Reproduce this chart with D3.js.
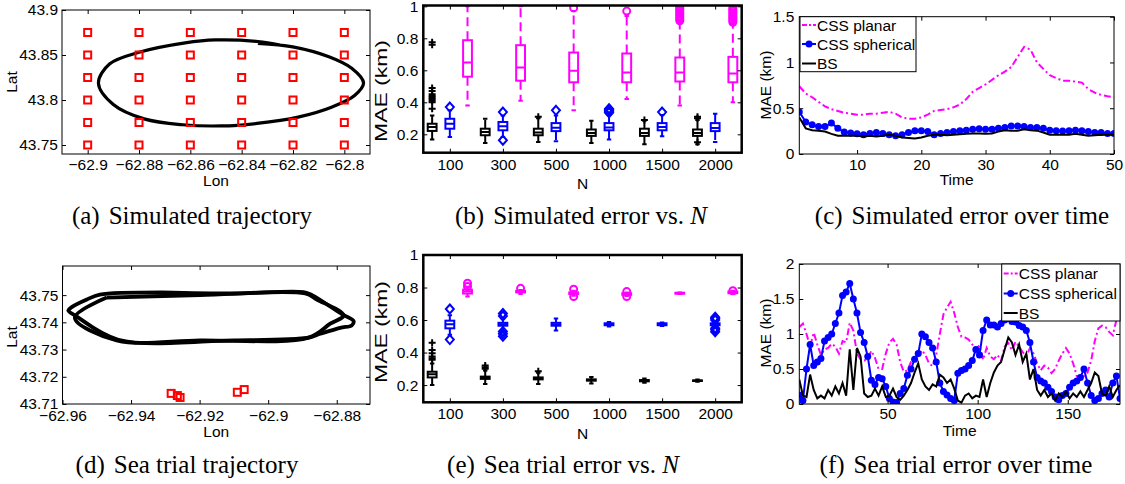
<!DOCTYPE html>
<html><head><meta charset="utf-8">
<script src="https://cdn.jsdelivr.net/npm/d3@7"></script>
<style>
body{margin:0;background:#fff}
svg{display:block}
</style></head><body>
<svg id="fig" width="1125" height="484"></svg>
<script>
// ---- (a) simulated trajectory ----
var simSensorLon = [-62.9, -62.88, -62.86, -62.84, -62.82, -62.8];
var simSensorLat = [43.75, 43.775, 43.8, 43.825, 43.85, 43.875];
var simTrackLon = [-62.8337, -62.8201, -62.8060, -62.7970, -62.7925, -62.7960, -62.8050, -62.8180, -62.8340, -62.8480, -62.8630, -62.8780, -62.8900, -62.8958, -62.8915, -62.8800, -62.8620, -62.8502, -62.8337, -62.8250];
var simTrackLat = [43.8630, 43.8590, 43.8480, 43.8350, 43.8190, 43.8050, 43.7920, 43.7810, 43.7740, 43.7712, 43.7725, 43.7790, 43.7950, 43.8186, 43.8400, 43.8530, 43.8635, 43.8667, 43.8650, 43.8610];
var simLonTicks = [-62.9, -62.88, -62.86, -62.84, -62.82, -62.8];
var simLatTicks = [43.75, 43.8, 43.85, 43.9];

// ---- (b),(e) error vs N : boxes ordered BS, CSS spherical, CSS planar for each N ----
var nLabels = ["100", "300", "500", "1000", "1500", "2000"];
var boxColors = ["#000000", "#0000ff", "#ff00ff"];
var simQ1  = [.221,.235,.56, .194,.225,.535, .194,.22,.525, .19,.225,.525, .19,.225,.53, .19,.22,.525];
var simMed = [.245,.266,.649, .214,.25,.618, .212,.241,.597, .208,.243,.587, .208,.245,.587, .208,.24,.58];
var simQ3  = [.266,.297,.788, .235,.277,.757, .235,.27,.711, .23,.27,.705, .235,.27,.68, .23,.27,.684];
var simLo  = [.167,.183,.38, .146,.183,.41, .152,.157,.35, .146,.167,.42, .138,.188,.38, .138,.152,.40];
var simHi  = [.318,.35,1.0, .297,.318,1.0, .30,.318,.97, .285,.32,.94, .285,.32,.9, .29,.328,.89];
var simOut = [[.36,.40,.41,.42,.43,.44,.45,.47,.49,.76,.775],[.37],[],
              [],[.163,.339],[],
              [.31],[.35],[.99],
              [],[.335,.34,.345,.35,.355,.36],[.97],
              [.29],[.339],[.91,.92,.93,.94,.95,.96,.97,.98,.99,1.0],
              [.15,.30,.31],[],[.9,.91,.92,.93,.94,.95,.96,.97,.98,.99]];
var seaQ1  = [.247,.549,.763, .238,.565,.77, .235,.565,.76, .227,.568,.755, .223,.568,.762, .225,.568,.765];
var seaMed = [.266,.574,.775, .245,.574,.775, .241,.574,.765, .231,.574,.76, .227,.574,.765, .227,.574,.77];
var seaQ3  = [.282,.596,.787, .252,.583,.78, .247,.583,.77, .235,.58,.765, .231,.58,.768, .229,.58,.775];
var seaLo  = [.2,.51,.744, .206,.53,.76, .206,.535,.75, .21,.56,.748, .215,.563,.76, .22,.56,.76];
var seaHi  = [.333,.63,.80, .29,.61,.785, .275,.61,.78, .25,.588,.77, .24,.585,.77, .235,.59,.78];
var seaOut = [[.355,.365,.375,.395,.415,.46],[.48,.668],[.806,.826],
              [.30,.31,.32],[.5,.515,.53,.625,.64],[.795],
              [.285],[],[.744,.79],
              [],[],[.745,.775],
              [],[],[],
              [],[.528,.54,.55,.6,.61,.617],[.78]];

// ---- (c) simulated error over time, t = 1..50 ----
var cPlanar = [0.74,0.66,0.62,0.57,0.52,0.49,0.47,0.45,0.44,0.43,0.43,0.44,0.44,0.45,0.46,0.44,0.40,0.385,0.385,0.40,0.43,0.47,0.48,0.49,0.51,0.54,0.60,0.68,0.72,0.76,0.81,0.86,0.90,0.95,1.06,1.17,1.14,1.0,0.93,0.86,0.83,0.80,0.80,0.79,0.78,0.71,0.67,0.645,0.63,0.62];
var cSpherical = [0.46,0.35,0.32,0.30,0.30,0.34,0.28,0.24,0.23,0.22,0.21,0.225,0.235,0.225,0.21,0.20,0.21,0.235,0.255,0.255,0.245,0.21,0.225,0.235,0.245,0.255,0.26,0.27,0.275,0.27,0.27,0.28,0.29,0.305,0.305,0.30,0.29,0.29,0.28,0.26,0.255,0.25,0.255,0.26,0.255,0.245,0.235,0.235,0.225,0.225];
var cBS = [0.40,0.28,0.26,0.255,0.245,0.22,0.20,0.20,0.20,0.20,0.19,0.20,0.19,0.20,0.21,0.20,0.18,0.175,0.17,0.18,0.20,0.21,0.21,0.205,0.21,0.215,0.22,0.225,0.225,0.22,0.225,0.245,0.26,0.255,0.255,0.27,0.26,0.255,0.235,0.21,0.21,0.21,0.21,0.22,0.21,0.20,0.205,0.21,0.21,0.21];

// ---- (d) sea trial trajectory ----
var seaLoop1Lon = [-62.9310,-62.9101,-62.8897,-62.8872,-62.8785,-62.8751,-62.8756,-62.8790,-62.8848,-62.8882,-62.9101,-62.9437,-62.9559,-62.9583,-62.9573,-62.9529,-62.9491,-62.9310];
var seaLoop1Lat = [43.7510,43.7506,43.7511,43.7500,43.7430,43.7405,43.7389,43.7380,43.7358,43.7344,43.7334,43.7336,43.7422,43.7444,43.7456,43.7484,43.7502,43.7510];
var seaLoop2Lon = [-62.9471,-62.9199,-62.8892,-62.8858,-62.8780,-62.8819,-62.8882,-62.9199,-62.9442,-62.9564,-62.9471];
var seaLoop2Lat = [43.7491,43.7500,43.7506,43.7484,43.7426,43.7395,43.7344,43.7334,43.7334,43.7417,43.7491];
var seaSensorLon = [-62.9283, -62.9265, -62.9257, -62.9090, -62.9070];
var seaSensorLat = [43.7139, 43.7131, 43.7124, 43.7143, 43.7153];
var seaLonTicks = [-62.96, -62.94, -62.92, -62.9, -62.88];
var seaLatTicks = [43.71, 43.72, 43.73, 43.74, 43.75];

// ---- (f) sea trial error over time, every second step t = 1,3,...,179 ----
var fPlanar = [1.1,1.15,1.0,0.82,1.02,0.85,0.7,0.78,0.8,0.86, 0.82,0.72,0.9,0.88,1.16,1.05,0.72,0.64,0.62,0.65,
  0.76,0.66,0.5,0.5,0.72,0.88,0.93,0.85,0.6,0.46, 0.48,0.6,0.64,0.68,0.77,0.7,0.58,0.54,0.7,1.0,
  1.28,1.38,1.46,1.3,1.1,0.96,0.95,0.92,0.85,0.78, 0.84,0.63,0.8,0.68,0.64,0.7,0.62,0.82,0.87,0.77,
  0.89,0.82,0.74,0.68,0.8,0.72,0.58,0.48,0.55,0.52, 0.44,0.5,0.62,0.72,0.8,0.72,0.58,0.4,0.35,0.4,
  0.45,0.62,0.9,1.08,1.12,1.1,1.03,0.98,1.2,1.3];
var fSpherical = [0.13,0.05,0.5,0.85,0.55,0.6,0.65,0.9,0.95,1.0, 1.15,1.3,1.55,1.6,1.72,1.5,1.3,1.02,0.88,0.68,
  0.34,0.28,0.38,0.36,0.25,0.08,0.03,0.02,0.15,0.22, 0.41,0.5,0.64,0.72,1.0,0.96,0.88,0.8,0.6,0.3,
  0.18,0.13,0.08,0.05,0.44,0.48,0.5,0.55,0.62,0.78, 0.7,1.05,1.2,1.13,1.13,1.1,1.15,1.2,1.22,1.18,
  1.17,1.12,1.1,1.05,0.88,0.6,0.38,0.33,0.3,0.24, 0.18,0.1,0.06,0.12,0.15,0.24,0.3,0.33,0.38,0.5,
  0.3,0.12,0.05,0.08,0.15,0.2,0.1,0.3,0.4,0.08];
var fBS = [0.35,0.12,0.1,0.42,0.2,0.08,0.12,0.08,0.2,0.12, 0.25,0.15,0.3,0.12,0.78,0.2,0.8,0.68,0.15,0.1,
  0.12,0.22,0.12,0.25,0.1,0.12,0.22,0.1,0.06,0.12, 0.2,0.3,0.45,0.58,0.35,0.25,0.2,0.28,0.25,0.42,
  0.38,0.3,0.35,0.22,0.05,0.02,0.12,0.15,0.08,0.12, 0.1,0.35,0.1,0.3,0.45,0.55,0.6,0.78,0.95,0.88,
  0.7,0.85,0.6,0.72,0.35,0.5,0.2,0.12,0.2,0.1, 0.15,0.05,0.15,0.1,0.18,0.08,0.15,0.1,0.18,0.1,
  0.2,0.3,0.45,0.4,0.15,0.12,0.25,0.1,0.2,0.27];

var legendNames = ["CSS planar", "CSS spherical", "BS"];

var svg = d3.select('#fig');
var sans = '"Liberation Sans", Arial, sans-serif';
var serif = '"Liberation Serif", "Times New Roman", serif';
var fmt = d3.format('~g');
var clipCount = 0;

function axesBox(b, xd, yd) {
  var ax = {b: b};
  ax.x = d3.scaleLinear().domain(xd).range([b.l, b.r]);
  ax.y = d3.scaleLinear().domain(yd).range([b.b, b.t]);
  var id = 'clip' + (clipCount++);
  svg.append('clipPath').attr('id', id).append('rect')
    .attr('x', b.l).attr('y', b.t).attr('width', b.r - b.l).attr('height', b.b - b.t);
  ax.g = svg.append('g').attr('clip-path', 'url(#' + id + ')');
  return ax;
}

function finishAxes(ax, o) {
  var b = ax.b, g = svg.append('g');
  g.append('g').attr('transform', 'translate(0,' + b.b + ')')
    .call(d3.axisBottom(ax.x).tickValues(o.xt).tickFormat(o.xf || fmt).tickSize(-4).tickSizeOuter(0).tickPadding(o.padX));
  g.append('g').attr('transform', 'translate(0,' + b.t + ')')
    .call(d3.axisTop(ax.x).tickValues(o.xt).tickFormat('').tickSize(-4).tickSizeOuter(0));
  g.append('g').attr('transform', 'translate(' + b.l + ',0)')
    .call(d3.axisLeft(ax.y).tickValues(o.yt).tickFormat(fmt).tickSize(-4).tickSizeOuter(0).tickPadding(o.padY));
  g.append('g').attr('transform', 'translate(' + b.r + ',0)')
    .call(d3.axisRight(ax.y).tickValues(o.yt).tickFormat('').tickSize(-4).tickSizeOuter(0));
  g.selectAll('.domain').remove();
  g.selectAll('g').attr('font-size', 15.5).attr('font-family', sans);
  g.selectAll('text').attr('fill', '#000');
  g.selectAll('.tick line').attr('stroke', '#000');
  g.append('rect').attr('x', b.l).attr('y', b.t).attr('width', b.r - b.l).attr('height', b.b - b.t)
    .attr('fill', 'none').attr('stroke', '#000').attr('stroke-width', o.bw || 1);
  svg.append('text').attr('x', (b.l + b.r) / 2).attr('y', o.xlY).attr('text-anchor', 'middle')
    .attr('font-family', sans).attr('font-size', 15.5).text(o.xl);
  svg.append('text').attr('transform', 'translate(' + o.ylX + ',' + o.ylY + ') rotate(-90) scale(' + (o.ylStretch || 1) + ',1)')
    .attr('text-anchor', 'middle').attr('font-family', sans).attr('font-size', o.ylSize || 15.5).text(o.yl);
}

function caption(x, y, tag, text, italic) {
  var t = svg.append('text').attr('x', x).attr('y', y).attr('text-anchor', 'middle')
    .attr('font-family', serif).attr('font-size', 25);
  t.append('tspan').text(tag);
  t.append('tspan').attr('dx', 9).text(text);
  if (italic) t.append('tspan').attr('font-style', 'italic').text(italic);
}

function squares(ax, lons, lats, size) {
  ax.g.selectAll(null).data(lons.map(function(d, i) { return [d, lats[i]]; })).enter()
    .append('rect')
    .attr('x', function(d) { return ax.x(d[0]) - size / 2; })
    .attr('y', function(d) { return ax.y(d[1]) - size / 2; })
    .attr('width', size).attr('height', size)
    .attr('fill', 'none').attr('stroke', '#ff0000').attr('stroke-width', 2);
}

// ===== (a) =====
var A = axesBox({l: 62, r: 370, t: 10, b: 154}, [-62.91, -62.79], [43.74, 43.9]);
A.g.append('path')
  .datum(simTrackLon.map(function(d, i) { return [d, simTrackLat[i]]; }))
  .attr('d', d3.line().x(function(d) { return A.x(d[0]); }).y(function(d) { return A.y(d[1]); }).curve(d3.curveCatmullRom))
  .attr('fill', 'none').attr('stroke', '#000').attr('stroke-width', 3.2);
var gridLon = [], gridLat = [];
simSensorLon.forEach(function(lo) { simSensorLat.forEach(function(la) { gridLon.push(lo); gridLat.push(la); }); });
squares(A, gridLon, gridLat, 7);
finishAxes(A, {xt: simLonTicks, yt: simLatTicks, padX: 5, padY: 4, xl: 'Lon', xlY: 186, yl: 'Lat', ylX: 17, ylY: 82});
caption(192, 224, '(a)', 'Simulated trajectory');

// ===== (b),(e) boxplots =====
function boxPanel(b, yd, q1, med, q3, lo, hi, outs) {
  var ax = axesBox(b, [0.5, 18.5], yd);
  var bw = ax.x(1.25) - ax.x(1);
  q1.forEach(function(v, i) {
    var c = boxColors[i % 3], cx = ax.x(i + 1), g = ax.g.append('g').attr('stroke', c).attr('fill', 'none').attr('stroke-width', 2);
    g.append('line').attr('x1', cx).attr('x2', cx).attr('y1', ax.y(q3[i])).attr('y2', ax.y(hi[i])).attr('stroke-dasharray', '9,5');
    g.append('line').attr('x1', cx).attr('x2', cx).attr('y1', ax.y(q1[i])).attr('y2', ax.y(lo[i])).attr('stroke-dasharray', '9,5');
    [lo[i], hi[i]].forEach(function(w) {
      g.append('line').attr('x1', cx - bw / 2).attr('x2', cx + bw / 2).attr('y1', ax.y(w)).attr('y2', ax.y(w));
    });
    g.append('rect').attr('x', cx - bw).attr('width', 2 * bw)
      .attr('y', ax.y(q3[i])).attr('height', Math.max(ax.y(q1[i]) - ax.y(q3[i]), 0.5));
    g.append('line').attr('x1', cx - bw).attr('x2', cx + bw).attr('y1', ax.y(med[i])).attr('y2', ax.y(med[i]));
    outs[i].forEach(function(o) {
      var y = ax.y(o);
      if (i % 3 === 0) {
        g.append('path').attr('d', 'M' + (cx - 3.5) + ',' + y + 'h7M' + cx + ',' + (y - 3.5) + 'v7');
      } else if (i % 3 === 1) {
        g.append('path').attr('d', 'M' + cx + ',' + (y - 4.5) + 'l4,4.5l-4,4.5l-4,-4.5z');
      } else {
        g.append('circle').attr('cx', cx).attr('cy', y).attr('r', 3.5);
      }
    });
  });
  return ax;
}
var nTicks = [2, 5, 8, 11, 14, 17];
var nFmt = function(d, i) { return nLabels[i]; };
var B = boxPanel({l: 423.3, r: 741.7, t: 5.5, b: 152.7}, [0.085, 1.005], simQ1, simMed, simQ3, simLo, simHi, simOut);
finishAxes(B, {xt: nTicks, xf: nFmt, yt: [0.2, 0.4, 0.6, 0.8, 1], padX: 6, padY: 5, bw: 2.5, xl: 'N', xlY: 189, yl: 'MAE (km)', ylX: 387, ylY: 91, ylSize: 17, ylStretch: 1.35});
caption(581, 224, '(b)', 'Simulated error vs. ', 'N');

var E = boxPanel({l: 423.3, r: 741.7, t: 255, b: 402.3}, [0.094, 1.0], seaQ1, seaMed, seaQ3, seaLo, seaHi, seaOut);
finishAxes(E, {xt: nTicks, xf: nFmt, yt: [0.2, 0.4, 0.6, 0.8, 1], padX: 6, padY: 5, bw: 2.5, xl: 'N', xlY: 439, yl: 'MAE (km)', ylX: 387, ylY: 332, ylSize: 17, ylStretch: 1.35});
caption(563, 473, '(e)', 'Sea trial error vs. ', 'N');

// ===== line panels (c),(f) =====
function seriesPanel(ax, tOf, planar, spherical, bs) {
  var line = function(arr) {
    return d3.line().x(function(d, i) { return ax.x(tOf(i)); }).y(function(d) { return ax.y(d); })(arr);
  };
  ax.g.append('path').attr('d', line(planar)).attr('fill', 'none').attr('stroke', '#ff00ff')
    .attr('stroke-width', 2).attr('stroke-dasharray', '7,3,2,3');
  ax.g.append('path').attr('d', line(spherical)).attr('fill', 'none').attr('stroke', '#0000ff').attr('stroke-width', 2);
  ax.g.selectAll(null).data(spherical).enter().append('circle')
    .attr('cx', function(d, i) { return ax.x(tOf(i)); }).attr('cy', function(d) { return ax.y(d); })
    .attr('r', 3.5).attr('fill', '#0000ff');
  ax.g.append('path').attr('d', line(bs)).attr('fill', 'none').attr('stroke', '#000').attr('stroke-width', 2);
}
function legend(x, y, w, h, rows) {
  var g = svg.append('g');
  g.append('rect').attr('x', x).attr('y', y).attr('width', w).attr('height', h)
    .attr('fill', '#fff').attr('stroke', '#000').attr('stroke-width', 1);
  var styles = [{c: '#ff00ff', dash: '5,2,2,2'}, {c: '#0000ff', dot: true}, {c: '#000'}];
  legendNames.forEach(function(name, i) {
    var ly = rows[i], s = styles[i];
    g.append('line').attr('x1', x + 2).attr('x2', x + 16).attr('y1', ly).attr('y2', ly)
      .attr('stroke', s.c).attr('stroke-width', 2).attr('stroke-dasharray', s.dash || null);
    if (s.dot) g.append('circle').attr('cx', x + 9).attr('cy', ly).attr('r', 3.5).attr('fill', s.c);
    g.append('text').attr('x', x + 17).attr('y', ly + 5.5).attr('font-family', sans).attr('font-size', 15.5).text(name);
  });
}

var C = axesBox({l: 799.3, r: 1114, t: 16.7, b: 154}, [1, 50], [0, 1.5]);
seriesPanel(C, function(i) { return i + 1; }, cPlanar, cSpherical, cBS);
finishAxes(C, {xt: [10, 20, 30, 40, 50], yt: [0, 0.5, 1, 1.5], padX: 5, padY: 5, xl: 'Time', xlY: 185, yl: 'MAE (km)', ylX: 771, ylY: 85});
legend(800, 16.7, 116, 55, [25, 44, 63.5]);
caption(962, 224, '(c)', 'Simulated error over time');

var F = axesBox({l: 799.3, r: 1120, t: 264, b: 404}, [1, 179], [0, 2]);
seriesPanel(F, function(i) { return 1 + 2 * i; }, fPlanar, fSpherical, fBS);
finishAxes(F, {xt: [50, 100, 150], yt: [0, 0.5, 1, 1.5, 2], padX: 4, padY: 5, xl: 'Time', xlY: 436, yl: 'MAE (km)', ylX: 771, ylY: 333});
legend(1001.7, 264, 118.3, 57, [273.5, 293.5, 313]);
caption(956, 473, '(f)', 'Sea trial error over time');

// ===== (d) =====
var D = axesBox({l: 62.5, r: 370, t: 266, b: 404}, [-62.96, -62.8703], [43.71, 43.7607]);
[[seaLoop1Lon, seaLoop1Lat], [seaLoop2Lon, seaLoop2Lat]].forEach(function(lp) {
  D.g.append('path')
    .datum(lp[0].map(function(d, i) { return [d, lp[1][i]]; }))
    .attr('d', d3.line().x(function(d) { return D.x(d[0]); }).y(function(d) { return D.y(d[1]); }).curve(d3.curveCatmullRom.alpha(0.5)))
    .attr('fill', 'none').attr('stroke', '#000').attr('stroke-width', 3.8).attr('stroke-linejoin', 'round');
});
squares(D, seaSensorLon, seaSensorLat, 7);
finishAxes(D, {xt: seaLonTicks, yt: seaLatTicks, padX: 6, padY: 4, xl: 'Lon', xlY: 437, yl: 'Lat', ylX: 17, ylY: 337});
caption(187, 473, '(d)', 'Sea trial trajectory');
</script>
</body></html>
